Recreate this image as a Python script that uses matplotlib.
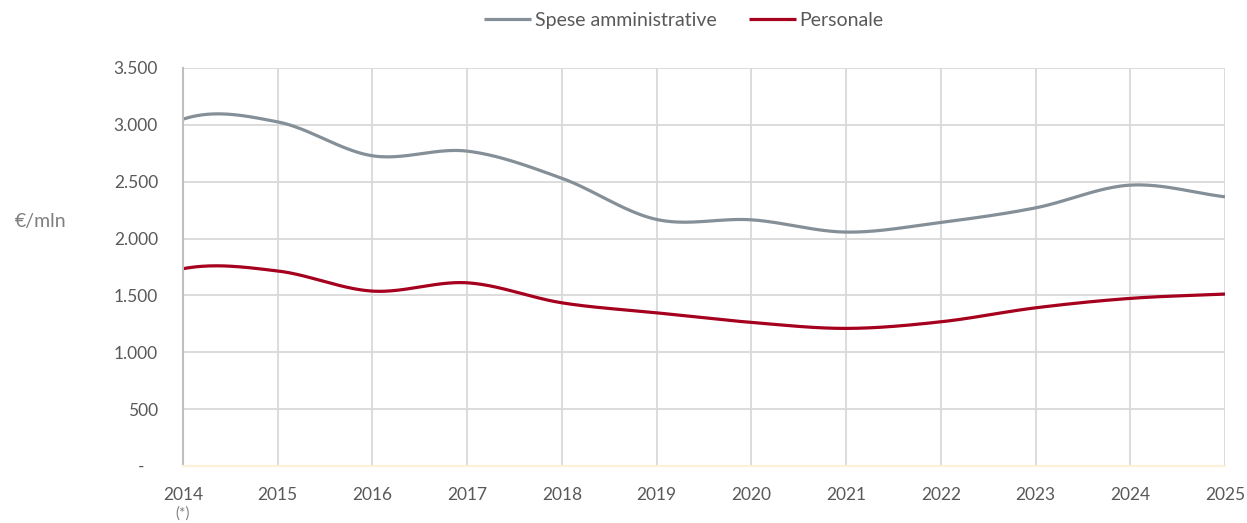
import numpy as np
import matplotlib
matplotlib.use("Agg")
import matplotlib.pyplot as plt

years = [2014, 2015, 2016, 2017, 2018, 2019, 2020, 2021, 2022, 2023, 2024, 2025]
year_labels = ["2014", "2015", "2016", "2017", "2018", "2019", "2020", "2021", "2022", "2023", "2024", "2025"]
spese_amministrative = [3050, 3026, 2728, 2769, 2530, 2168, 2165, 2057, 2142, 2270, 2470, 2367]
personale = [1735, 1715, 1538, 1611, 1435, 1347, 1263, 1210, 1268, 1391, 1474, 1512]
y_ticks = [0, 500, 1000, 1500, 2000, 2500, 3000, 3500]
y_tick_labels = ["-   ", "500", "1.000", "1.500", "2.000", "2.500", "3.000", "3.500"]

GRAY = "#858f97"
RED = "#a5001e"
TXT = "#595959"

plt.rcParams['font.family'] = ['Lato', 'DejaVu Sans']


def smooth(x, y, n=40):
    """Excel-like smoothed line: cubic Hermite through the points."""
    x = np.asarray(x, float)
    y = np.asarray(y, float)
    m = np.zeros_like(y)
    m[1:-1] = (y[2:] - y[:-2]) / (x[2:] - x[:-2])
    m[0] = 2 * (y[1] - y[0]) - 2 * m[1]
    m[-1] = (y[-1] - y[-2])
    xs, ys = [], []
    for i in range(len(x) - 1):
        h = x[i + 1] - x[i]
        t = np.linspace(0, 1, n, endpoint=(i == len(x) - 2))
        h00 = 2 * t**3 - 3 * t**2 + 1
        h10 = t**3 - 2 * t**2 + t
        h01 = -2 * t**3 + 3 * t**2
        h11 = t**3 - t**2
        xs.append(x[i] + t * h)
        ys.append(h00 * y[i] + h10 * h * m[i] + h01 * y[i + 1] + h11 * h * m[i + 1])
    return np.concatenate(xs), np.concatenate(ys)


fig = plt.figure(figsize=(12.47, 5.23), dpi=100)
ax = fig.add_axes([183 / 1247, 57 / 523, (1225 - 183) / 1247, (466 - 68) / 523])

ax.set_xlim(years[0], years[-1])
ax.set_ylim(0, 3500)
ax.set_yticks(y_ticks)
ax.set_yticklabels(y_tick_labels)
ax.set_xticks(years)
ax.set_xticklabels(year_labels)

ax.grid(True, color="#d9d9d9", linewidth=1.3)
ax.set_axisbelow(True)
for s in ["top", "right"]:
    ax.spines[s].set_visible(False)
ax.spines["left"].set_color("#bfbfbf")
ax.spines["left"].set_linewidth(1.5)
ax.spines["bottom"].set_color("#fdf0d6")
ax.spines["bottom"].set_linewidth(1.5)
ax.tick_params(axis="both", length=0, colors=TXT, labelsize=12.5)
ax.tick_params(axis="y", pad=18)
ax.tick_params(axis="x", pad=15)

xs, ys = smooth(years, spese_amministrative)
ax.plot(xs, ys, color=GRAY, linewidth=2.3, label="Spese amministrative", solid_capstyle="butt")
xs, ys = smooth(years, personale)
ax.plot(xs, ys, color=RED, linewidth=2.3, label="Personale", solid_capstyle="butt")

fig.text(183 / 1247, 1 - 514 / 523, "(*)", ha="center", va="center", fontsize=11, color="#7f7f7f")
fig.text(41 / 1247, 1 - 222 / 523, "€/mln", ha="center", va="center", fontsize=14, color="#7f7f7f")

leg = fig.legend(loc="center", bbox_to_anchor=(684 / 1247, 1 - 20 / 523), ncol=2, frameon=False,
                 fontsize=14, handlelength=2.4, handletextpad=0.2, columnspacing=1.65)
for t in leg.get_texts():
    t.set_color(TXT)

fig.savefig("out.png", dpi=100)
